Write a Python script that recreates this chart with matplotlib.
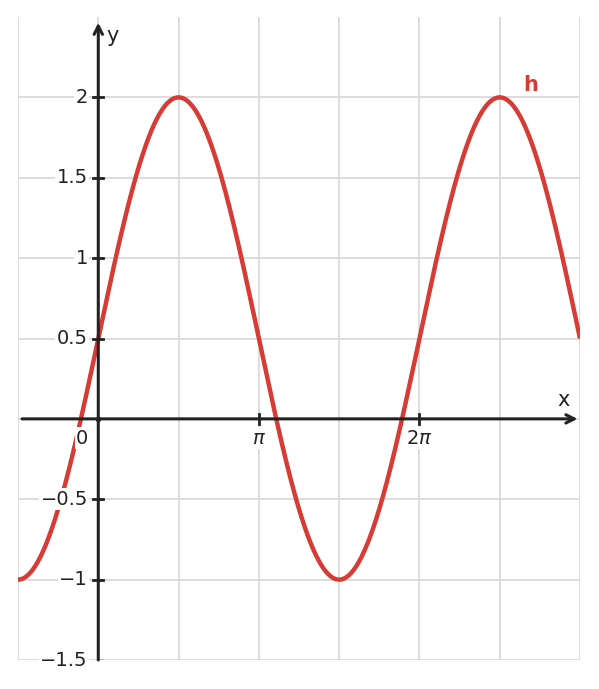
import numpy as np
import matplotlib
matplotlib.use("Agg")
import matplotlib.pyplot as plt

# Function parameters: h(x) = offset + amplitude*sin(x)
offset = 0.5
amplitude = 1.5
x_range = [-np.pi / 2, 3 * np.pi]
y_range = [-1.5, 2.5]
x_tick_values = [np.pi, 2 * np.pi]
x_tick_labels = [r"$\pi$", r"$2\pi$"]
y_tick_values = [-1.5, -1, -0.5, 0.5, 1, 1.5, 2]
y_tick_labels = ["\u22121.5", "\u22121", "\u22120.5", "0.5", "1", "1.5", "2"]
grid_x = [k * np.pi / 2 for k in range(-1, 7)]
grid_y = [-1.5, -1, -0.5, 0, 0.5, 1, 1.5, 2]

RED = "#d63b36"
DARK = "#222222"
GRID = "#d7d7d7"

fig = plt.figure(figsize=(5.99, 6.89), dpi=100)
W, H = 599, 689
ax = fig.add_axes([18 / W, 1 - 660 / H, (580 - 18) / W, (660 - 17) / H])
ax.set_xlim(*x_range)
ax.set_ylim(*y_range)
for s in ax.spines.values():
    s.set_visible(False)
ax.set_xticks([])
ax.set_yticks([])

for gx in grid_x:
    ax.axvline(gx, color=GRID, lw=1.2, zorder=0)
for gy in grid_y:
    ax.axhline(gy, color=GRID, lw=1.2, zorder=0)

x = np.linspace(x_range[0], x_range[1], 800)
h = offset + amplitude * np.sin(x)
ax.plot(x, h, color=RED, lw=3.2, zorder=3, solid_capstyle="butt")

# axes with arrows
ax.annotate("", xy=(2.985 * np.pi, 0), xytext=(-0.475 * np.pi, 0),
            arrowprops=dict(arrowstyle="->,head_length=0.6,head_width=0.3",
                            lw=2.2, color=DARK, shrinkA=0, shrinkB=0), zorder=4)
ax.annotate("", xy=(0, 2.465), xytext=(0, -1.5),
            arrowprops=dict(arrowstyle="->,head_length=0.6,head_width=0.3",
                            lw=2.2, color=DARK, shrinkA=0, shrinkB=0), zorder=4)

fs = 14
tick_dx = 0.03 * np.pi
tick_dy = 0.03
for xv, lab in zip(x_tick_values, x_tick_labels):
    ax.plot([xv, xv], [-tick_dy, tick_dy], color=DARK, lw=2, zorder=4)
    ax.text(xv, -0.06, lab, ha="center", va="top", fontsize=fs, color=DARK,
            bbox=dict(facecolor="white", edgecolor="none", pad=1), zorder=5)
for yv, lab in zip(y_tick_values, y_tick_labels):
    if yv == -1.5:
        ax.plot([0, tick_dx], [yv + 0.003, yv + 0.003], color=DARK, lw=1, zorder=4)
    else:
        ax.plot([-tick_dx, tick_dx], [yv, yv], color=DARK, lw=2, zorder=4)
    ax.text(-0.065 * np.pi, yv, lab, ha="right", va="center", fontsize=fs, color=DARK,
            bbox=dict(facecolor="white", edgecolor="none", pad=1), zorder=5)

ax.text(-0.1 * np.pi, -0.06, "0", ha="center", va="top", fontsize=fs, color=DARK,
        bbox=dict(facecolor="white", edgecolor="none", pad=1), zorder=5)
ax.plot([0], [0], "o", color=DARK, ms=3, zorder=5)

ax.text(2.9 * np.pi, 0.12, "x", ha="center", va="center", fontsize=fs + 1, color=DARK, zorder=5)
ax.text(0.05 * np.pi, 2.38, "y", ha="left", va="center", fontsize=fs + 1, color=DARK, zorder=5)
ax.text(2.69 * np.pi, 2.08, "h", ha="center", va="center", fontsize=fs + 1,
        fontweight="bold", color=RED, zorder=5)

fig.savefig("out.png", dpi=100)
